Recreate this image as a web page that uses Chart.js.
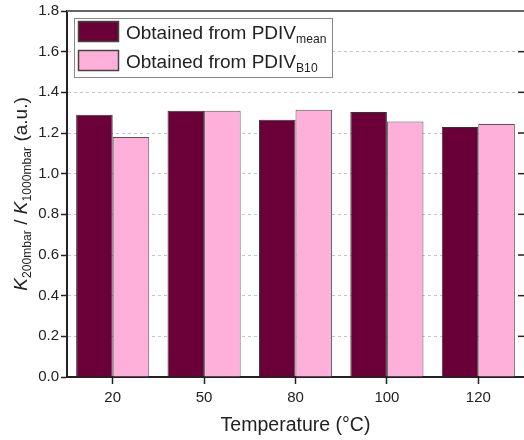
<!DOCTYPE html>
<html>
<head>
<meta charset="utf-8">
<script src="https://cdn.jsdelivr.net/npm/chart.js@4/dist/chart.umd.min.js"></script>
<style>
  body { margin: 0; background: #fff; }
  #grafico { display: block; }
</style>
</head>
<body>
<canvas id="grafico" width="524" height="440"></canvas>
<script>
const temperaturas = ['20', '50', '80', '100', '120'];
const valoresMean = [1.29, 1.31, 1.265, 1.303, 1.229];
const valoresB10 = [1.18, 1.31, 1.314, 1.256, 1.244];
const rotulosLegenda = ['Obtained from PDIV', 'Obtained from PDIV'];
const subLegenda = ['mean', 'B10'];
const ticksY = [0, 0.2, 0.4, 0.6, 0.8, 1.0, 1.2, 1.4, 1.6, 1.8];

const CORES = ['#6a0037', '#ffb0da'];
const FONTE = '"Liberation Sans", Arial, sans-serif';

// desenha texto com subscritos / itálico, partes = [{t, sub, it}]
function larguraPartes(ctx, partes, tam) {
  let w = 0;
  partes.forEach((p) => {
    const s = p.sub ? tam * 0.64 : tam;
    ctx.font = `${p.it ? 'italic ' : ''}${s}px ${FONTE}`;
    w += ctx.measureText(p.t).width;
  });
  return w;
}

function desenharPartes(ctx, partes, x, y, tam) {
  ctx.textBaseline = 'alphabetic';
  ctx.textAlign = 'left';
  let cx = x;
  partes.forEach((p) => {
    const s = p.sub ? tam * 0.64 : tam;
    ctx.font = `${p.it ? 'italic ' : ''}${s}px ${FONTE}`;
    ctx.fillText(p.t, cx, p.sub ? y + tam * 0.22 : y);
    cx += ctx.measureText(p.t).width;
  });
}

const pluginExtras = {
  id: 'extras',
  afterDraw(chart) {
    const { ctx, chartArea } = chart;
    const escalaY = chart.scales.y;
    ctx.save();

    // moldura superior e ticks internos da direita
    ctx.strokeStyle = '#666';
    ctx.lineWidth = 2;
    ctx.beginPath();
    ctx.moveTo(chartArea.left, chartArea.top);
    ctx.lineTo(chartArea.right, chartArea.top);
    ctx.stroke();
    ctx.strokeStyle = '#222';
    ctx.lineWidth = 1.5;
    ticksY.slice(1, -1).forEach((v) => {
      const py = escalaY.getPixelForValue(v);
      ctx.beginPath();
      ctx.moveTo(chartArea.right - 6, py);
      ctx.lineTo(chartArea.right, py);
      ctx.stroke();
    });

    // legenda
    const lx = chartArea.left + 7;
    const ly = chartArea.top + 7;
    ctx.fillStyle = '#fff';
    ctx.fillRect(lx, ly, 258, 59);
    ctx.strokeStyle = '#888';
    ctx.lineWidth = 1;
    ctx.strokeRect(lx + 0.5, ly + 0.5, 258, 59);
    chart.data.datasets.forEach((ds, i) => {
      const sy = ly + 3 + i * 29;
      ctx.fillStyle = ds.backgroundColor;
      ctx.fillRect(lx + 4, sy, 41, 21);
      ctx.strokeStyle = '#444';
      ctx.lineWidth = 1.5;
      ctx.strokeRect(lx + 4.5, sy + 0.5, 40, 20);
      ctx.fillStyle = '#222';
      desenharPartes(ctx, [{ t: rotulosLegenda[i] }, { t: subLegenda[i], sub: true }], lx + 52, sy + 18, 19);
    });

    // título do eixo Y
    const partesY = [
      { t: 'K', it: true }, { t: '200mbar', sub: true }, { t: ' / ' },
      { t: 'K', it: true }, { t: '1000mbar', sub: true }, { t: ' (a.u.)' },
    ];
    const w = larguraPartes(ctx, partesY, 19);
    ctx.translate(27, (chartArea.top + chartArea.bottom) / 2);
    ctx.rotate(-Math.PI / 2);
    ctx.fillStyle = '#222';
    desenharPartes(ctx, partesY, -w / 2, 0, 19);
    ctx.restore();
  },
};

new Chart(document.getElementById('grafico'), {
  type: 'bar',
  data: {
    labels: temperaturas,
    datasets: [
      { label: rotulosLegenda[0] + subLegenda[0], data: valoresMean, backgroundColor: CORES[0], borderColor: '#333', borderWidth: 1 },
      { label: rotulosLegenda[1] + subLegenda[1], data: valoresB10, backgroundColor: CORES[1], borderColor: '#555', borderWidth: 1 },
    ],
  },
  options: {
    responsive: false,
    animation: false,
    devicePixelRatio: 1,
    layout: { padding: { top: 8, right: 0, left: 0, bottom: 0 } },
    datasets: { bar: { categoryPercentage: 0.8, barPercentage: 1 } },
    plugins: { legend: { display: false }, tooltip: { enabled: false } },
    scales: {
      x: {
        afterFit: (s) => { s.height = 63; },
        grid: { offset: false, drawOnChartArea: false, tickLength: 7, tickColor: '#222', tickWidth: 1.5 },
        border: { color: '#222', width: 2 },
        ticks: { color: '#222', font: { family: FONTE, size: 15 }, padding: 5 },
        title: { display: true, text: 'Temperature (°C)', color: '#222', font: { family: FONTE, size: 19.5 }, padding: { top: 0, bottom: 3 } },
      },
      y: {
        min: 0,
        max: 1.8,
        afterFit: (s) => { s.width = 67; },
        afterBuildTicks: (s) => { s.ticks = ticksY.map((v) => ({ value: v })); },
        grid: {
          color: (c) => (c.tick && (c.tick.value === 0 || c.tick.value === 1.8) ? 'rgba(0,0,0,0)' : '#c4c4c4'),
          lineWidth: 1,
          tickLength: 6,
          tickColor: '#222',
          tickWidth: 1.5,
          tickBorderDash: [],
        },
        border: { color: '#222', width: 2, dash: [3, 3] },
        ticks: { color: '#222', font: { family: FONTE, size: 15 }, padding: 2, callback: (v) => Number(v).toFixed(1) },
      },
    },
  },
  plugins: [pluginExtras],
});
</script>
</body>
</html>
